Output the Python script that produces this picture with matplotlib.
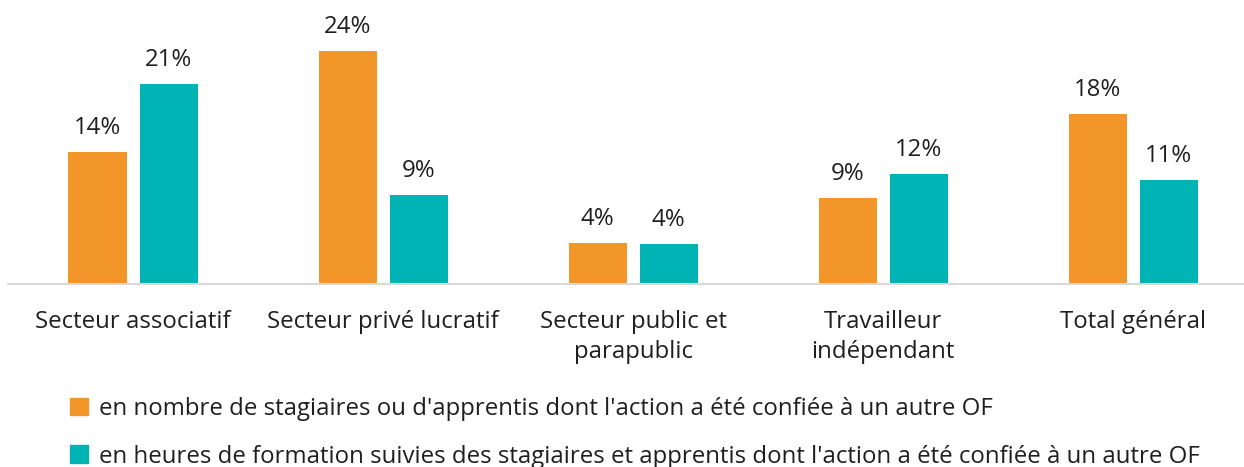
import matplotlib.pyplot as plt
import numpy as np
from matplotlib.patches import Patch

plt.rcParams['font.family'] = ['Open Sans', 'DejaVu Sans']

# data (bar heights, %) and the printed labels
categories = ["Secteur associatif", "Secteur privé lucratif", "Secteur public et\nparapublic",
              "Travailleur\nindépendant", "Total général"]
nb_stagiaires = [13.6, 24.0, 4.2, 8.9, 17.5]
heures_formation = [20.6, 9.2, 4.1, 11.3, 10.7]
nb_labels = ["14%", "24%", "4%", "9%", "18%"]
heures_labels = ["21%", "9%", "4%", "12%", "11%"]
series_names = ["en nombre de stagiaires ou d'apprentis dont l'action a été confiée à un autre OF",
                "en heures de formation suivies des stagiaires et apprentis dont l'action a été confiée à un autre OF"]

orange = '#F39629'
teal = '#00B4B6'
txt = '#1F1F1F'
fs = 17.3

W, H = 1244, 467
fig = plt.figure(figsize=(W / 100, H / 100), dpi=100)
# axes: left 8px, baseline at y=284px from top
ax = fig.add_axes([8 / W, (H - 284) / H, 1236 / W, 284 / H])

x = np.arange(len(categories))
bw = 0.232
off = 0.142
b1 = ax.bar(x - off, nb_stagiaires, bw, color=orange)
b2 = ax.bar(x + off, heures_formation, bw, color=teal)

for bars, vals, labs in ((b1, nb_stagiaires, nb_labels), (b2, heures_formation, heures_labels)):
    for b, v, lab in zip(bars, vals, labs):
        ax.text(b.get_x() + b.get_width() / 2, v + 1.25, lab,
                ha='center', va='bottom', fontsize=fs, color=txt)

ax.set_xlim(-0.5, -0.5 + 1236 / 250)
ax.set_ylim(0, 284 / 9.7)
ax.set_yticks([])
ax.set_xticks(x)
ax.set_xticklabels(categories, fontsize=fs, color=txt, linespacing=1.3)
ax.tick_params(axis='x', length=0, pad=19)
for s in ['top', 'right', 'left']:
    ax.spines[s].set_visible(False)
ax.spines['bottom'].set_color('#D9D9D9')
ax.spines['bottom'].set_linewidth(1.5)

handles = [Patch(color=orange), Patch(color=teal)]
fig.legend(handles, series_names, loc='upper left', bbox_to_anchor=(70 / W, 1 - 397 / H),
           frameon=False, fontsize=fs, handlelength=0.75, handleheight=0.75,
           handletextpad=0.45, labelspacing=0.98, borderpad=0, borderaxespad=0,
           labelcolor=txt)

fig.savefig('out.png', dpi=100)
